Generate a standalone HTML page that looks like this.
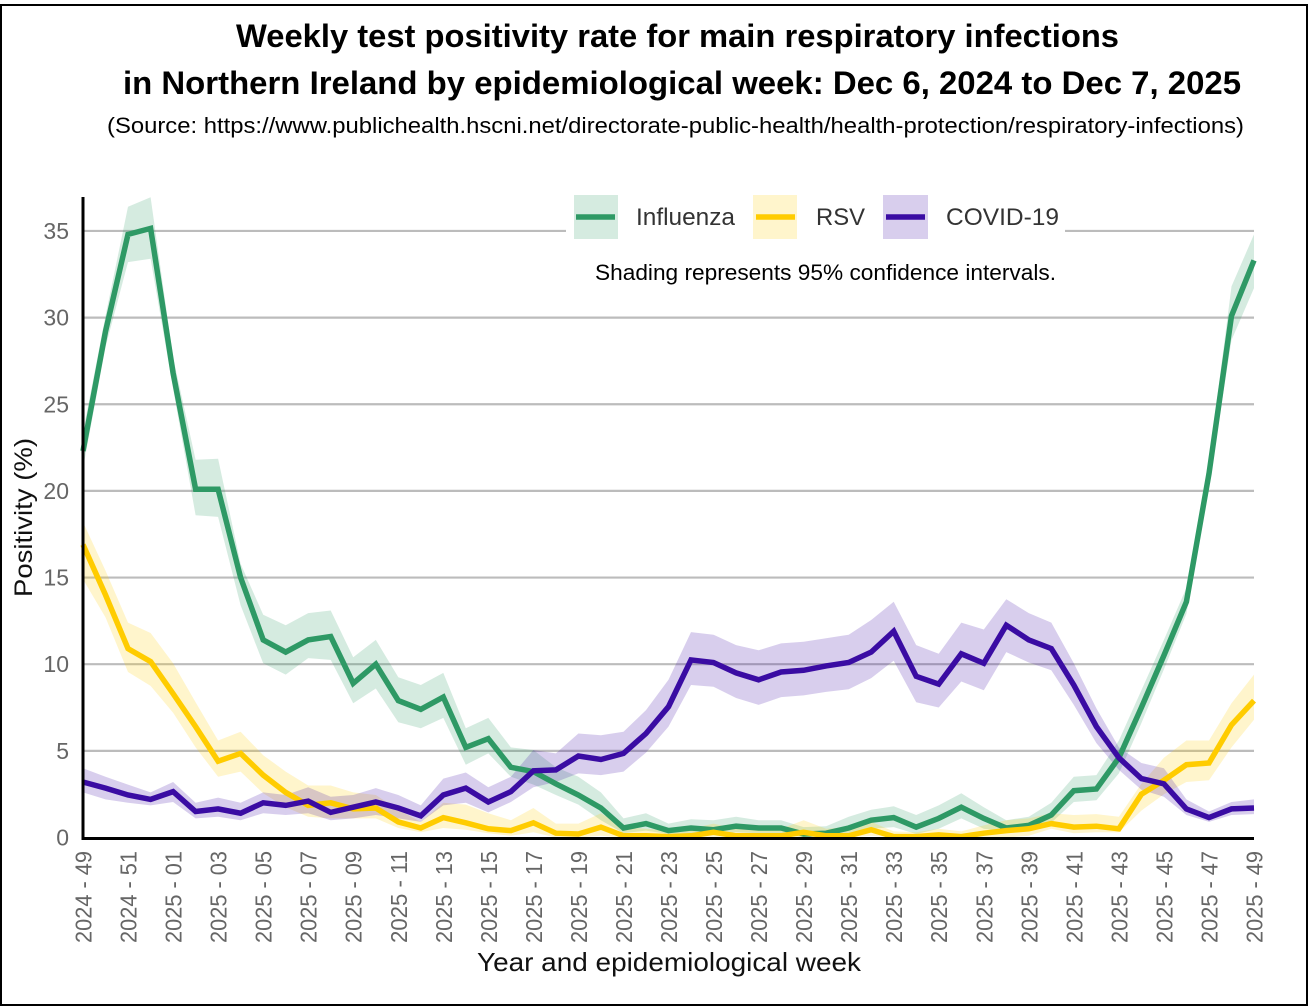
<!DOCTYPE html>
<html lang="en">
<head>
<meta charset="utf-8">
<title>Weekly test positivity rate, Northern Ireland</title>
<style>
html,body{margin:0;padding:0;background:#fff;width:1308px;height:1006px;overflow:hidden}
svg{display:block}
text{font-family:"Liberation Sans",sans-serif}
</style>
</head>
<body>
<svg id="chart" xmlns="http://www.w3.org/2000/svg" width="1308" height="1006" viewBox="0 0 1308 1006">
  <rect x="1" y="5" width="1306" height="1000" fill="#fff" stroke="#000" stroke-width="2"/>
  <text x="236" y="47" font-size="32" font-weight="700" fill="#000" textLength="883" lengthAdjust="spacingAndGlyphs">Weekly test positivity rate for main respiratory infections</text>
  <text x="123" y="94" font-size="32" font-weight="700" fill="#000" textLength="1118" lengthAdjust="spacingAndGlyphs">in Northern Ireland by epidemiological week: Dec 6, 2024 to Dec 7, 2025</text>
  <text x="107" y="133" font-size="22" fill="#000" textLength="1137" lengthAdjust="spacingAndGlyphs">(Source: https://www.publichealth.hscni.net/directorate-public-health/health-protection/respiratory-infections)</text>
  <g id="grid"></g>
  <g id="bands"></g>
  <g id="lines"></g>
  <g id="axes"></g>
  <g>
    <rect x="566" y="195" width="499" height="44" fill="#fff"/>
    <rect x="574" y="195" width="44" height="44" fill="#2E9965" fill-opacity="0.2"/>
    <line x1="576" x2="615" y1="217" y2="217" stroke="#2E9965" stroke-width="5.5"/>
    <text x="636" y="225" font-size="24" fill="#333" textLength="99" lengthAdjust="spacingAndGlyphs">Influenza</text>
    <rect x="753" y="195" width="44" height="44" fill="#FFCC00" fill-opacity="0.2"/>
    <line x1="756" x2="795" y1="217" y2="217" stroke="#FFCC00" stroke-width="5.5"/>
    <text x="816" y="225" font-size="24" fill="#333" textLength="49" lengthAdjust="spacingAndGlyphs">RSV</text>
    <rect x="883" y="195" width="45" height="44" fill="#3A0CA3" fill-opacity="0.2"/>
    <line x1="886" x2="925" y1="217" y2="217" stroke="#3A0CA3" stroke-width="5.5"/>
    <text x="946" y="225" font-size="24" fill="#333" textLength="113" lengthAdjust="spacingAndGlyphs">COVID-19</text>
  </g>
  <text x="595" y="280" font-size="22" fill="#000" textLength="461" lengthAdjust="spacingAndGlyphs">Shading represents 95% confidence intervals.</text>
  <text transform="translate(32,597) rotate(-90)" font-size="25" fill="#111" textLength="159" lengthAdjust="spacingAndGlyphs">Positivity (%)</text>
  <text x="477" y="971" font-size="26" fill="#111" textLength="384" lengthAdjust="spacingAndGlyphs">Year and epidemiological week</text>
</svg>
<script>
const categories = [
  "2024 - 49","2024 - 50","2024 - 51","2024 - 52","2025 - 01","2025 - 02","2025 - 03","2025 - 04","2025 - 05","2025 - 06",
  "2025 - 07","2025 - 08","2025 - 09","2025 - 10","2025 - 11","2025 - 12","2025 - 13","2025 - 14","2025 - 15","2025 - 16",
  "2025 - 17","2025 - 18","2025 - 19","2025 - 20","2025 - 21","2025 - 22","2025 - 23","2025 - 24","2025 - 25","2025 - 26",
  "2025 - 27","2025 - 28","2025 - 29","2025 - 30","2025 - 31","2025 - 32","2025 - 33","2025 - 34","2025 - 35","2025 - 36",
  "2025 - 37","2025 - 38","2025 - 39","2025 - 40","2025 - 41","2025 - 42","2025 - 43","2025 - 44","2025 - 45","2025 - 46",
  "2025 - 47","2025 - 48","2025 - 49"
];
const yTicks = [0, 5, 10, 15, 20, 25, 30, 35];

const influenza = [
  22.3,29.2,34.8,35.15,26.8,20.1,20.1,15,11.4,10.7,
  11.4,11.6,8.9,10,7.9,7.4,8.1,5.2,5.7,4.05,
  3.8,3.1,2.45,1.7,.55,.8,.4,.55,.45,.65,
  .55,.55,.2,.25,.55,1,1.15,.6,1.1,1.75,
  1.1,.55,.7,1.3,2.7,2.8,4.6,7.5,10.5,13.6,
  21,30.1,33.3
];
const influenzaUpper = [
  23.4,30.1,36.4,36.95,27.7,21.8,21.85,15.8,12.85,12.25,
  12.95,13.1,10.4,11.4,9.25,8.8,9.5,6.3,6.9,5.2,
  5.05,4.05,3.5,2.6,1.1,1.4,.8,1.05,1,1.2,
  1,1,.6,.65,1.2,1.6,1.8,1.3,1.85,2.55,
  1.75,1,1.2,2,3.5,3.6,5.6,8.5,11.4,14.4,
  21.7,31.8,34.8
];
const influenzaLower = [
  21.3,28.3,33.2,33.4,25.9,18.6,18.5,13.4,10.05,9.4,
  10.35,10.25,7.75,8.6,6.65,6.3,6.9,4.2,4.85,3.5,
  3.05,2.45,1.9,1,.25,.4,.2,.2,.2,.3,
  .25,.25,0,0,.2,.5,.6,.2,.5,1.1,
  .5,.35,.5,.85,2.05,2.15,3.7,6.6,9.7,12.9,
  20.3,28.7,31.7
];

const rsv = [
  16.9,14,10.9,10.15,8.3,6.4,4.4,4.85,3.6,2.6,
  1.85,2,1.65,1.7,.9,.55,1.15,.85,.5,.4,
  .85,.25,.2,.6,.1,.1,.05,.1,.3,.1,
  .1,.1,.3,.1,.1,.45,.05,.05,.15,.05,
  .25,.4,.5,.8,.6,.65,.5,2.5,3.3,4.2,
  4.3,6.5,7.9
];
const rsvUpper = [
  18.2,15.4,12.4,11.8,10.05,7.8,5.6,6.1,4.75,3.8,
  3,3,2.6,2.45,1.6,.9,2,1.9,1.4,1,
  1.7,.8,.8,1.4,.6,.5,.4,.5,.8,.5,
  .5,.5,1,.5,.6,.9,.35,.3,.5,.35,
  .7,1,1.1,1.4,1.3,1.35,1.2,3.1,4.6,5.6,
  5.6,7.75,9.4
];
const rsvLower = [
  14.9,12.7,9.55,8.75,7.2,5.2,3.5,3.8,2.55,1.75,
  1.2,1.1,1.1,1.1,.55,.3,.55,.45,.25,.1,
  .3,0,0,.1,0,0,0,0,0,0,
  0,0,0,0,0,.1,0,0,0,0,
  0,0,.1,.5,.25,.3,.3,1.55,2.5,3.2,
  3.3,5.2,6.8
];

const covid = [
  3.2,2.85,2.45,2.2,2.65,1.5,1.65,1.4,2,1.85,
  2.1,1.45,1.75,2.05,1.7,1.25,2.45,2.85,2.05,2.65,
  3.85,3.9,4.7,4.5,4.85,6,7.55,10.25,10.1,9.5,
  9.1,9.55,9.65,9.9,10.1,10.7,11.9,9.3,8.85,10.6,
  10.05,12.25,11.4,10.9,8.8,6.4,4.6,3.4,3.1,1.65,
  1.15,1.65,1.7
];
const covidUpper = [
  4,3.5,3.05,2.6,3.2,2,2.3,2,2.6,2.45,
  2.9,2.35,2.45,2.85,2.45,1.85,3.4,3.75,2.9,3.5,
  5.05,4.85,6,5.9,6.1,7.35,9.1,11.85,11.7,11.1,
  10.8,11.2,11.3,11.5,11.7,12.55,13.6,11.1,10.6,12.4,
  12,13.75,12.95,12.4,10.05,7.45,5.2,4.3,4,2.2,
  1.5,2.05,2.2
];
const covidLower = [
  2.6,2.2,2,1.85,2.05,1.1,1.2,1,1.4,1.3,
  1.4,1,1.1,1.3,1.1,.9,1.85,2,1.45,2.05,
  2.9,3.2,3.7,3.6,3.8,4.9,6.4,8.8,8.7,8.05,
  7.65,8.1,8.2,8.4,8.55,9.2,10.2,7.8,7.5,9,
  8.5,10.7,10.1,9.65,7.65,5.45,3.9,2.75,2.35,1.3,
  .9,1.3,1.35
];

const SVG_NS = "http://www.w3.org/2000/svg";
const plotLeft = 83, plotRight = 1254, plotZero = 837.5, pxPerUnit = 17.33;
function xScale(i) { return plotLeft + i * (plotRight - plotLeft) / (categories.length - 1); }
function yScale(v) { return plotZero - v * pxPerUnit; }
function make(tag, attrs, parent) {
  const el = document.createElementNS(SVG_NS, tag);
  for (const k in attrs) el.setAttribute(k, attrs[k]);
  parent.appendChild(el);
  return el;
}
function linePoints(values) {
  return values.map((v, i) => xScale(i).toFixed(1) + "," + yScale(v).toFixed(1)).join(" ");
}
function bandPoints(upper, lower) {
  const top = upper.map((v, i) => xScale(i).toFixed(1) + "," + yScale(v).toFixed(1));
  const bottom = lower.map((v, i) => xScale(i).toFixed(1) + "," + yScale(v).toFixed(1)).reverse();
  return top.concat(bottom).join(" ");
}

const gridG = document.getElementById("grid");
const bandsG = document.getElementById("bands");
const linesG = document.getElementById("lines");
const axesG = document.getElementById("axes");

yTicks.forEach(t => {
  if (t > 0) {
    const g = make("line", {x1: plotLeft, x2: plotRight, y1: yScale(t), y2: yScale(t), stroke: "#bcbcbc", "stroke-width": 2.2}, gridG);
    
    
  }
  const lab = make("text", {x: 69, y: yScale(t) + 8, "text-anchor": "end", "font-size": 23, fill: "#666"}, axesG);
  lab.textContent = t;
  
  
});

const band1 = make("polygon", {points: bandPoints(influenzaUpper, influenzaLower), fill: "#2E9965", "fill-opacity": 0.2}, bandsG);


const band2 = make("polygon", {points: bandPoints(rsvUpper, rsvLower), fill: "#FFCC00", "fill-opacity": 0.2}, bandsG);


const band3 = make("polygon", {points: bandPoints(covidUpper, covidLower), fill: "#3A0CA3", "fill-opacity": 0.2}, bandsG);



const lineStyle = {fill: "none", "stroke-width": 5.5, "stroke-linejoin": "miter", "stroke-miterlimit": 3};
const line1 = make("polyline", Object.assign({points: linePoints(influenza), stroke: "#2E9965"}, lineStyle), linesG);


const line2 = make("polyline", Object.assign({points: linePoints(rsv), stroke: "#FFCC00"}, lineStyle), linesG);


const line3 = make("polyline", Object.assign({points: linePoints(covid), stroke: "#3A0CA3"}, lineStyle), linesG);



const yAxisLine = make("line", {x1: plotLeft, x2: plotLeft, y1: 197, y2: 839.5, stroke: "#000", "stroke-width": 3}, axesG);


const xAxisLine = make("line", {x1: plotLeft - 1.5, x2: plotRight, y1: 838.5, y2: 838.5, stroke: "#000", "stroke-width": 3}, axesG);



categories.forEach((c, i) => {
  if (i % 2 !== 0) return;
  const lab = make("text", {transform: "translate(" + (xScale(i) + 8.5) + ",851) rotate(-90)", "text-anchor": "end", "font-size": 23, fill: "#666", textLength: 92, lengthAdjust: "spacingAndGlyphs"}, axesG);
  lab.textContent = c;
  
  
});
</script>
</body>
</html>
